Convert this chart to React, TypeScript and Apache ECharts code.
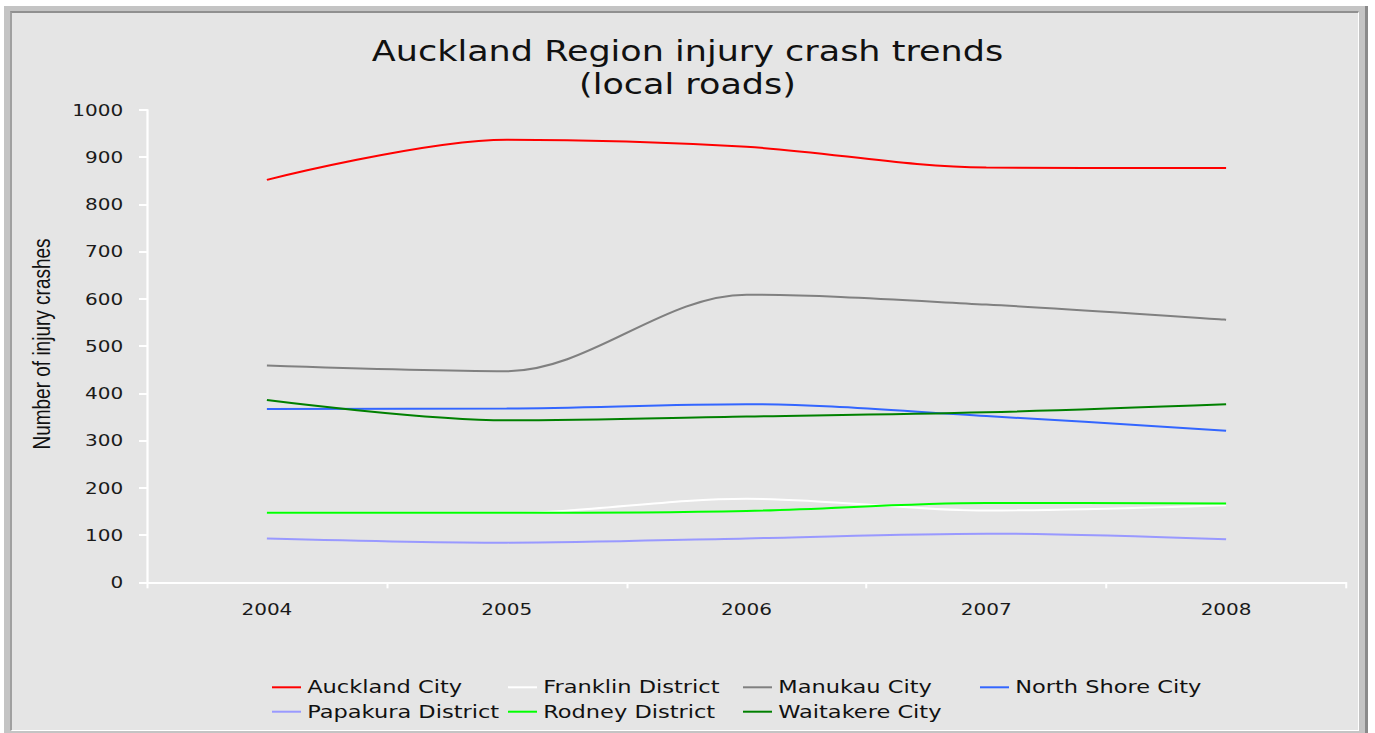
import React, { useEffect, useRef } from "react";
import * as echarts from "echarts";

const years = ["2004", "2005", "2006", "2007", "2008"];
const aucklandCity = [852, 937, 922, 878, 877];
const franklinDistrict = [147, 147, 177, 152, 163];
const manukauCity = [459, 447, 609, 588, 556];
const northShoreCity = [367, 368, 377, 352, 321];
const papakuraDistrict = [93, 84, 93, 103, 91];
const rodneyDistrict = [147, 147, 151, 168, 167];
const waitakereCity = [386, 343, 351, 360, 377];

const seriesNames = [
  "Auckland City",
  "Franklin District",
  "Manukau City",
  "North Shore City",
  "Papakura District",
  "Rodney District",
  "Waitakere City",
];
const seriesData = [
  aucklandCity,
  franklinDistrict,
  manukauCity,
  northShoreCity,
  papakuraDistrict,
  rodneyDistrict,
  waitakereCity,
];
const seriesColors = ["#ff0000", "#ffffff", "#808080", "#3366ff", "#9999ff", "#00ff00", "#008000"];

const titleText = "Auckland Region injury crash trends\n(local roads)";
const yAxisName = "Number of injury crashes";

// horizontal stretch of the rendered chart
const S = 1.25;
const W = 1375 / S;
const H = 733;

const legendLefts = [272 / S, 508 / S, 743 / S, 980 / S];
const legendTops = [678.3, 702.7];

export default function App() {
  const ref = useRef<HTMLDivElement>(null);

  useEffect(() => {
    const chart = echarts.init(ref.current as HTMLDivElement, null, { renderer: "svg" });
    const font = "DejaVu Sans";
    const option: any = {
      animation: false,
      backgroundColor: "transparent",
      title: {
        text: titleText,
        left: "center",
        top: 30,
        textStyle: {
          fontFamily: font,
          fontSize: 28,
          fontWeight: "normal",
          color: "#111",
          lineHeight: 33,
        },
      },
      legend: seriesNames.map((n, i) => ({
        data: [n],
        left: legendLefts[i % 4],
        top: legendTops[Math.floor(i / 4)],
        padding: 0,
        icon: "rect",
        itemWidth: 29 / S,
        itemHeight: 2,
        selectedMode: false,
        textStyle: { fontFamily: font, fontSize: 18, color: "#111" },
      })),
      grid: { left: 147 / S, right: W - 1346 / S, top: 110, bottom: H - 582.3, containLabel: false },
      xAxis: {
        type: "category",
        data: years,
        boundaryGap: true,
        axisLine: { show: true, lineStyle: { color: "#ffffff", width: 2 } },
        axisTick: { show: true, length: 6, lineStyle: { color: "#ffffff", width: 1.6 } },
        axisLabel: { color: "#1a1a1a", fontFamily: font, fontSize: 16, margin: 19 },
        splitLine: { show: false },
      },
      yAxis: {
        type: "value",
        min: 0,
        max: 1000,
        interval: 100,
        axisLine: { show: true, lineStyle: { color: "#ffffff", width: 1.8 } },
        axisTick: { show: true, length: 6.4, lineStyle: { color: "#ffffff", width: 2 } },
        axisLabel: {
          color: "#1a1a1a",
          fontFamily: font,
          fontSize: 16,
          margin: 19,
          formatter: (v: number) => String(v),
        },
        splitLine: { show: false },
      },
      graphic: [
        {
          type: "text",
          x: 34,
          y: 344,
          rotation: Math.PI / 2,
          style: {
            text: yAxisName,
            fontFamily: "Liberation Sans",
            fontSize: 19,
            fill: "#111",
            align: "center",
            verticalAlign: "middle",
          },
        },
      ],
      series: seriesNames.map((n, i) => ({
        name: n,
        type: "line",
        data: seriesData[i],
        smooth: 0.33,
        symbol: "none",
        showSymbol: false,
        color: seriesColors[i],
        itemStyle: { color: seriesColors[i] },
        lineStyle: { color: seriesColors[i], width: 2 },
      })),
    };
    chart.setOption(option);
    return () => chart.dispose();
  }, []);

  return (
    <div
      style={{
        position: "fixed",
        left: 0,
        top: 0,
        width: 1375,
        height: 733,
        background: "#ffffff",
        overflow: "hidden",
      }}
    >
      <div
        style={{
          position: "absolute",
          left: 4,
          top: 6,
          width: 1364,
          height: 740,
          background: "#c4c4c4",
          borderRight: "3px solid #8a8a8a",
          boxSizing: "border-box",
        }}
      />
      <div
        style={{
          position: "absolute",
          left: 10,
          top: 11,
          width: 1349,
          height: 720,
          background: "#e5e5e5",
          borderTop: "2px solid #909090",
          borderLeft: "2px solid #a0a0a0",
          borderRight: "1px solid #ffffff",
          borderBottom: "1px solid #ffffff",
          boxSizing: "border-box",
        }}
      />
      <div
        ref={ref}
        style={{
          position: "absolute",
          left: 0,
          top: 0,
          width: W,
          height: H,
          transform: `scaleX(${S})`,
          transformOrigin: "0 0",
        }}
      />
    </div>
  );
}
